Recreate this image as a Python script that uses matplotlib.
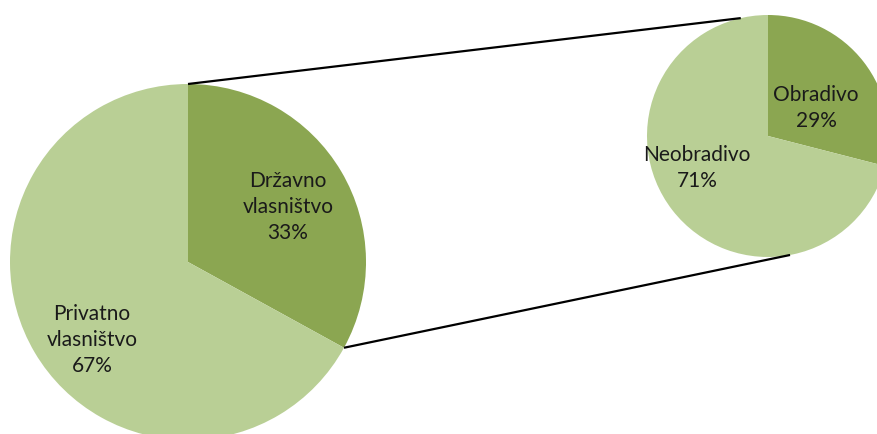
import numpy as np
import matplotlib
matplotlib.use('Agg')
import matplotlib.pyplot as plt

# main pie: ownership
main_labels = ['Državno\nvlasništvo', 'Privatno\nvlasništvo']
main_values = [33, 67]
# secondary pie: state-owned land split
sub_labels = ['Obradivo', 'Neobradivo']
sub_values = [29, 71]

dark = '#8ba651'
light = '#b9cf95'

plt.rcParams['font.family'] = ['Lato', 'DejaVu Sans']

W, H = 878, 434
fig = plt.figure(figsize=(W / 100, H / 100), dpi=100)
ax = fig.add_axes([0, 0, 1, 1])

# geometry in pixel units (y up)
c1, r1 = (188, H - 262), 178
c2, r2 = (768, H - 136), 121

ax.pie(main_values, startangle=90, counterclock=False, center=c1, radius=r1,
       colors=[dark, light], frame=True, wedgeprops=dict(linewidth=0))
ax.pie(sub_values, startangle=90, counterclock=False, center=c2, radius=r2,
       colors=[dark, light], frame=True, wedgeprops=dict(linewidth=0))

# connector lines: from ends of the 33% wedge to the secondary pie
a_top = np.deg2rad(90)
a_bot = np.deg2rad(90 - 360 * main_values[0] / sum(main_values))
p1 = (c1[0] + r1 * np.cos(a_top), c1[1] + r1 * np.sin(a_top))
p2 = (c1[0] + r1 * np.cos(a_bot), c1[1] + r1 * np.sin(a_bot))
q1 = (c2[0] + r2 * np.cos(np.deg2rad(103)), c2[1] + r2 * np.sin(np.deg2rad(103)))
q2 = (c2[0] + r2 * np.cos(np.deg2rad(-79.5)), c2[1] + r2 * np.sin(np.deg2rad(-79.5)))
ax.plot([p1[0], q1[0]], [p1[1], q1[1]], color='black', lw=1.6, solid_capstyle='butt')
ax.plot([p2[0], q2[0]], [p2[1], q2[1]], color='black', lw=1.6, solid_capstyle='butt')

fs = 15
kw = dict(ha='center', va='center', fontsize=fs, color='#1a1a1a', linespacing=1.4)
ax.text(288, H - 207, f'{main_labels[0]}\n{main_values[0]}%', **kw)
ax.text(92, H - 340, f'{main_labels[1]}\n{main_values[1]}%', **kw)
ax.text(816, H - 108, f'{sub_labels[0]}\n{sub_values[0]}%', **kw)
ax.text(697, H - 168, f'{sub_labels[1]}\n{sub_values[1]}%', **kw)

ax.set_xlim(0, W)
ax.set_ylim(0, H)
ax.set_aspect('equal')
ax.axis('off')

fig.savefig('out.png', dpi=100)
